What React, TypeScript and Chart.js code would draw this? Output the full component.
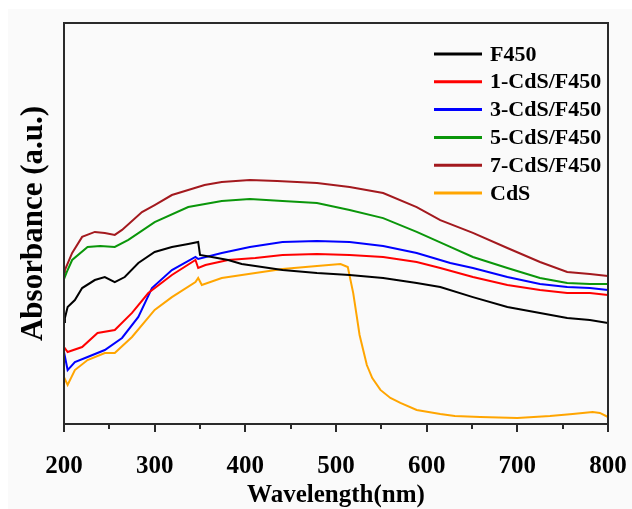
import { useEffect, useRef } from "react";
import { Chart, registerables } from "chart.js";

Chart.register(...registerables);

// ---- data (wavelength in nm, absorbance in a.u.) ----
const xTickValues = [200, 300, 400, 500, 600, 700, 800];

const f450Wl = [200, 201, 204, 212, 220, 234, 245, 256, 267, 282, 300, 319, 337, 348, 350, 363, 381, 396, 411, 441, 479, 515, 552, 589, 615, 651, 689, 725, 755, 780, 800];
const f450Abs = [0.509, 0.529, 0.584, 0.618, 0.678, 0.718, 0.733, 0.708, 0.733, 0.803, 0.858, 0.883, 0.898, 0.908, 0.843, 0.833, 0.818, 0.798, 0.788, 0.768, 0.753, 0.743, 0.728, 0.703, 0.683, 0.633, 0.584, 0.554, 0.529, 0.519, 0.504];

const cds1Wl = [200, 204, 220, 237, 256, 275, 293, 319, 345, 348, 356, 381, 411, 441, 479, 515, 552, 589, 615, 651, 689, 725, 755, 780, 800];
const cds1Abs = [0.384, 0.359, 0.384, 0.454, 0.469, 0.554, 0.653, 0.743, 0.818, 0.778, 0.793, 0.818, 0.828, 0.843, 0.848, 0.843, 0.833, 0.808, 0.778, 0.733, 0.693, 0.668, 0.653, 0.653, 0.643];

const cds3Wl = [200, 204, 212, 226, 245, 264, 282, 297, 319, 345, 348, 374, 405, 441, 479, 515, 552, 589, 626, 651, 689, 725, 755, 780, 800];
const cds3Abs = [0.359, 0.269, 0.309, 0.334, 0.369, 0.429, 0.534, 0.678, 0.768, 0.833, 0.823, 0.853, 0.883, 0.908, 0.913, 0.908, 0.888, 0.853, 0.803, 0.778, 0.733, 0.698, 0.683, 0.678, 0.668];

const cds5Wl = [200, 203, 209, 226, 240, 256, 271, 300, 337, 374, 405, 441, 479, 515, 552, 589, 626, 651, 689, 725, 755, 780, 800];
const cds5Abs = [0.723, 0.758, 0.818, 0.883, 0.888, 0.883, 0.918, 1.007, 1.082, 1.112, 1.122, 1.112, 1.102, 1.067, 1.027, 0.958, 0.883, 0.833, 0.778, 0.728, 0.703, 0.698, 0.698];

const cds7Wl = [200, 201, 209, 220, 234, 245, 256, 264, 286, 300, 319, 337, 355, 374, 405, 435, 479, 515, 552, 589, 615, 651, 689, 725, 755, 780, 800];
const cds7Abs = [0.758, 0.768, 0.853, 0.933, 0.958, 0.953, 0.943, 0.968, 1.057, 1.092, 1.142, 1.167, 1.192, 1.207, 1.217, 1.212, 1.202, 1.182, 1.152, 1.082, 1.017, 0.953, 0.878, 0.808, 0.758, 0.748, 0.738];

const cdsWl = [200, 204, 212, 226, 245, 256, 275, 300, 319, 345, 348, 352, 374, 411, 441, 479, 505, 513, 519, 523, 526, 530, 534, 540, 549, 560, 571, 589, 615, 631, 659, 700, 736, 761, 783, 791, 800];
const cdsAbs = [0.234, 0.195, 0.269, 0.319, 0.354, 0.354, 0.434, 0.569, 0.633, 0.708, 0.728, 0.693, 0.728, 0.753, 0.773, 0.788, 0.798, 0.783, 0.653, 0.534, 0.444, 0.369, 0.294, 0.229, 0.170, 0.130, 0.105, 0.070, 0.050, 0.040, 0.035, 0.030, 0.040, 0.050, 0.060, 0.055, 0.035];

const seriesLabels = ["F450", "1-CdS/F450", "3-CdS/F450", "5-CdS/F450", "7-CdS/F450", "CdS"];
const seriesColors = ["#000000", "#ff0000", "#0000ff", "#0a960a", "#a3191e", "#ffa500"];
const seriesWl = [f450Wl, cds1Wl, cds3Wl, cds5Wl, cds7Wl, cdsWl];
const seriesAbs = [f450Abs, cds1Abs, cds3Abs, cds5Abs, cds7Abs, cdsAbs];

const FONT = "'Liberation Serif', 'Times New Roman', serif";

const backgroundPlugin = {
  id: "bgPlugin",
  beforeDraw(chart: any) {
    const { ctx, width, height } = chart;
    ctx.save();
    ctx.fillStyle = "#ffffff";
    ctx.fillRect(0, 0, width, height);
    ctx.fillStyle = "#fafafa";
    ctx.fillRect(8, 9, width - 8, height - 9);
    ctx.restore();
  },
};

const framePlugin = {
  id: "framePlugin",
  afterDatasetsDraw(chart: any) {
    const { ctx, chartArea } = chart;
    const xs = chart.scales.x;
    ctx.save();
    ctx.strokeStyle = "#2a2a2a";
    ctx.lineWidth = 2;
    ctx.strokeRect(chartArea.left, chartArea.top, chartArea.right - chartArea.left, chartArea.bottom - chartArea.top);
    // tick marks (major every 100, minor every 50) pointing outward
    for (let v = xs.min; v <= xs.max; v += 50) {
      const px = Math.round(xs.getPixelForValue(v));
      const major = (v - xs.min) % 100 === 0;
      ctx.beginPath();
      ctx.moveTo(px, chartArea.bottom);
      ctx.lineTo(px, chartArea.bottom + (major ? 8 : 5));
      ctx.stroke();
    }
    ctx.restore();
  },
};

const legendPlugin = {
  id: "innerLegend",
  afterDraw(chart: any) {
    const { ctx } = chart;
    ctx.save();
    ctx.font = `bold 22px ${FONT}`;
    ctx.textBaseline = "middle";
    ctx.textAlign = "left";
    chart.data.datasets.forEach((ds: any, i: number) => {
      const y = 54 + i * 27.8;
      ctx.strokeStyle = ds.borderColor;
      ctx.lineWidth = 3;
      ctx.beginPath();
      ctx.moveTo(434, y);
      ctx.lineTo(482, y);
      ctx.stroke();
      ctx.fillStyle = "#000";
      ctx.fillText(ds.label, 490, y + 1);
    });
    ctx.restore();
  },
};

export default function App() {
  const ref = useRef<HTMLCanvasElement | null>(null);

  useEffect(() => {
    if (!ref.current) return;
    const datasets = seriesLabels.map((label, i) => ({
      label,
      data: seriesWl[i].map((w, j) => ({ x: w, y: seriesAbs[i][j] })),
      borderColor: seriesColors[i],
      backgroundColor: seriesColors[i],
      borderWidth: 2,
      pointRadius: 0,
      tension: 0,
      fill: false,
    }));
    const chart = new Chart(ref.current, {
      type: "line",
      data: { datasets },
      options: {
        responsive: false,
        animation: false,
        devicePixelRatio: 1,
        layout: { padding: { top: 23, right: 24, left: 0, bottom: 0 } },
        plugins: { legend: { display: false }, tooltip: { enabled: false } },
        scales: {
          x: {
            type: "linear",
            min: 200,
            max: 800,
            afterFit: (s: any) => {
              s.height = 85;
              s.paddingLeft = 0;
              s.paddingRight = 0;
            },
            afterBuildTicks: (s: any) => {
              s.ticks = xTickValues.map((v) => ({ value: v }));
            },
            grid: { display: false, drawTicks: false },
            border: { display: false },
            ticks: {
              color: "#000",
              padding: 28,
              maxRotation: 0,
              autoSkip: false,
              font: { family: FONT, size: 25, weight: "bold", lineHeight: 1.2 },
            },
            title: {
              display: true,
              text: "Wavelength(nm)",
              color: "#000",
              padding: { top: 0, bottom: 0.5 },
              font: { family: FONT, size: 25, weight: "bold", lineHeight: 1 },
            },
          },
          y: {
            min: 0,
            max: 2.0,
            afterFit: (s: any) => {
              s.width = 64;
            },
            grid: { display: false, drawTicks: false },
            border: { display: false },
            ticks: { display: false },
            title: {
              display: true,
              text: "Absorbance (a.u.)",
              color: "#000",
              padding: { top: 18, bottom: 0 },
              font: { family: FONT, size: 31, weight: "bold", lineHeight: 1 },
            },
          },
        },
      } as any,
      plugins: [backgroundPlugin, framePlugin, legendPlugin],
    });
    return () => chart.destroy();
  }, []);

  return (
    <div style={{ position: "fixed", left: 0, top: 0, width: 632, height: 509, overflow: "hidden" }}>
      <canvas ref={ref} width={632} height={509} style={{ display: "block", width: 632, height: 509 }} />
    </div>
  );
}
